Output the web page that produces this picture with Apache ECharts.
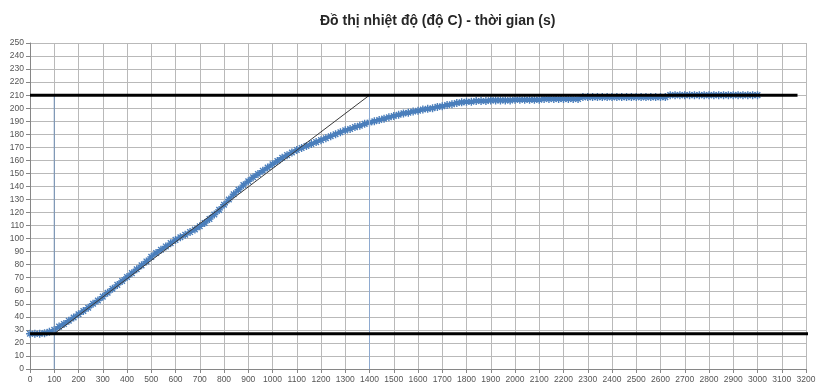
<!DOCTYPE html>
<html>
<head>
<meta charset="utf-8">
<script src="https://cdn.jsdelivr.net/npm/echarts@6/dist/echarts.min.js"></script>
<style>
  html, body { margin: 0; padding: 0; background: #ffffff; }
  #chart { width: 819px; height: 387px; }
</style>
</head>
<body>
<div id="chart"></div>
<script>
// Sample times (s)
const times = [
  0, 20, 40, 60, 80, 100, 120, 140, 160, 180, 200, 220, 240, 260, 280, 300, 320, 340, 360, 380,
  400, 420, 440, 460, 480, 500, 520, 540, 560, 580, 600, 620, 640, 660, 680, 700, 720, 740, 760, 780,
  800, 820, 840, 860, 880, 900, 920, 940, 960, 980, 1000, 1020, 1040, 1060, 1080, 1100, 1120, 1140, 1160, 1180,
  1200, 1220, 1240, 1260, 1280, 1300, 1320, 1340, 1360, 1380, 1400, 1420, 1440, 1460, 1480, 1500, 1520, 1540, 1560, 1580,
  1600, 1620, 1640, 1660, 1680, 1700, 1720, 1740, 1760, 1780, 1800, 1820, 1840, 1860, 1880, 1900, 1920, 1940, 1960, 1980,
  2000, 2020, 2040, 2060, 2080, 2100, 2120, 2140, 2160, 2180, 2200, 2220, 2240, 2260, 2280, 2300, 2320, 2340, 2360, 2380,
  2400, 2420, 2440, 2460, 2480, 2500, 2520, 2540, 2560, 2580, 2600, 2620, 2640, 2660, 2680, 2700, 2720, 2740, 2760, 2780,
  2800, 2820, 2840, 2860, 2880, 2900, 2920, 2940, 2960, 2980, 3000
];

// Measured temperature (°C)
const temps = [
  27, 27, 27, 27.5, 28.5, 30, 32.5, 34.5, 37, 39.5, 42, 44.5, 47, 50, 52.5, 55.5, 58.5, 61.5, 64.5, 67.5,
  70.5, 73.5, 76.5, 79.5, 82.5, 86, 89, 91.5, 94, 96.5, 99, 101, 103, 105, 107, 109.5, 112, 115, 118.5, 122,
  126, 130, 134, 137.5, 141, 144, 147, 149.5, 152, 154.5, 157, 159.5, 162, 164, 166, 168, 169.5, 171, 172.5, 174,
  175.5, 177, 178.5, 180, 181.5, 183, 184, 185.5, 186.5, 188, 189, 190, 191, 192, 193, 194, 195, 196, 196.5, 197.5,
  198, 199, 199.5, 200, 201, 201.5, 202.5, 203, 204, 204.5, 205, 205, 205.5, 205.5, 205.5, 206, 206, 206, 206, 206,
  206.5, 206.5, 206.5, 206.5, 206.5, 206.5, 207, 207, 207, 207, 207, 207, 207, 207, 208.5, 208.5, 208.5, 208.5, 208.5, 208.5,
  208.5, 208.5, 208.5, 208.5, 208.5, 208.5, 208.5, 208.5, 208.5, 208.5, 208.5, 208.5, 210, 210, 210, 210, 210, 210, 210, 210,
  210, 210, 210, 210, 210, 210, 210, 210, 210, 210, 210
];

// Construction lines: ambient level, steady-state level and the tangent
const ambientLine = [[0, 27], [3210, 27]];
const steadyLine = [[0, 210], [3165, 210]];
const tangentLine = [[100, 27], [1400, 210]];
const markerStart = [[100, 0], [100, 210]];
const markerEnd = [[1400, 0], [1400, 210]];

const curveData = times.map((t, i) => [t, temps[i]]);

const labelFont = 'Liberation Sans, Arial, sans-serif';
const asterisk = 'path://M5,0L5,10M0,5L10,5M1.5,1.5L8.5,8.5M1.5,8.5L8.5,1.5';

const chart = echarts.init(document.getElementById('chart'), null, { renderer: 'canvas' });

chart.setOption({
  animation: false,
  backgroundColor: '#ffffff',
  title: {
    text: 'Đồ thị nhiệt độ (độ C) - thời gian (s)',
    left: 315,
    top: 9,
    textStyle: {
      fontFamily: labelFont,
      fontWeight: 'bold',
      fontSize: 14,
      color: '#262626'
    }
  },
  grid: { left: 30, right: 13, top: 43, bottom: 18, containLabel: false },
  xAxis: {
    type: 'value',
    min: 0,
    max: 3200,
    interval: 100,
    axisLine: { show: true, onZero: false, lineStyle: { color: '#868686', width: 1 } },
    axisTick: { show: true, length: 4, lineStyle: { color: '#868686' } },
    axisLabel: {
      color: '#555555', fontFamily: labelFont, fontSize: 8.5, margin: 6,
      showMinLabel: true, showMaxLabel: true, hideOverlap: false,
      formatter: (v) => String(v)
    },
    splitLine: { show: true, lineStyle: { color: '#b9b9b9', width: 1 } }
  },
  yAxis: {
    type: 'value',
    min: 0,
    max: 250,
    interval: 10,
    axisLine: { show: true, lineStyle: { color: '#868686', width: 1 } },
    axisTick: { show: true, length: 4, lineStyle: { color: '#868686' } },
    axisLabel: {
      color: '#555555', fontFamily: labelFont, fontSize: 8.5, margin: 6,
      formatter: (v) => String(v)
    },
    splitLine: { show: true, lineStyle: { color: '#b9b9b9', width: 1 } }
  },
  series: [
    {
      name: 'temperature',
      type: 'line',
      data: curveData,
      z: 2,
      showAllSymbol: true,
      symbol: asterisk,
      symbolSize: 8,
      lineStyle: { color: '#5a8cc9', width: 3.5 },
      itemStyle: { color: '#4a7ebb', borderColor: '#4a7ebb', borderWidth: 1.4 }
    },
    {
      type: 'line', data: markerStart, z: 3, symbol: 'none',
      lineStyle: { color: '#6f8fb5', width: 1 }
    },
    {
      type: 'line', data: markerEnd, z: 3, symbol: 'none',
      lineStyle: { color: '#8eaad0', width: 1 }
    },
    {
      type: 'line', data: tangentLine, z: 4, symbol: 'none',
      lineStyle: { color: '#3a3a3a', width: 1 }
    },
    {
      type: 'line', data: steadyLine, z: 5, symbol: 'none',
      lineStyle: { color: '#000000', width: 3 }
    },
    {
      type: 'line', data: ambientLine, z: 5, symbol: 'none', clip: false,
      lineStyle: { color: '#000000', width: 3 }
    }
  ]
});
</script>
</body>
</html>
